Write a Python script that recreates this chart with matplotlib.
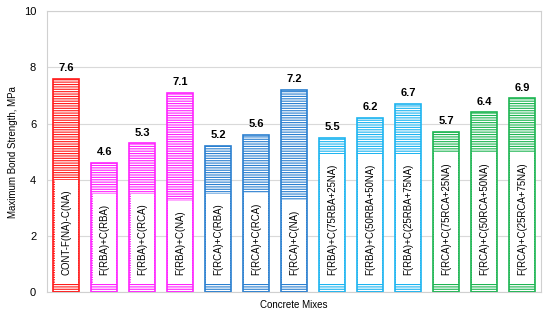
import matplotlib
matplotlib.use('Agg')
import matplotlib.pyplot as plt

# Bond strength of each concrete mix.

mixes = ['CONT-F(NA)-C(NA)', 'F(RBA)+C(RBA)', 'F(RBA)+C(RCA)', 'F(RBA)+C(NA)',
         'F(RCA)+C(RBA)', 'F(RCA)+C(RCA)', 'F(RCA)+C(NA)',
         'F(RBA)+C(75RBA+25NA)', 'F(RBA)+C(50RBA+50NA)', 'F(RBA)+C(25RBA+75NA)',
         'F(RCA)+C(75RCA+25NA)', 'F(RCA)+C(50RCA+50NA)', 'F(RCA)+C(25RCA+75NA)']
strength = [7.6, 4.6, 5.3, 7.1, 5.2, 5.6, 7.2, 5.5, 6.2, 6.7, 5.7, 6.4, 6.9]
colours = ['#FF1A1A'] + ['#FF22FF'] * 3 + ['#2A7FD0'] * 3 + ['#1CB4F0'] * 3 + ['#1DB552'] * 3

plt.rcParams['font.family'] = ['Liberation Sans', 'DejaVu Sans']
plt.rcParams['hatch.linewidth'] = 0.8

fig, ax = plt.subplots(figsize=(5.5, 3.21), dpi=100)
fig.subplots_adjust(left=0.086, right=0.984, top=0.965, bottom=0.09)

ax.set_xlim(-0.5, len(mixes) - 0.5)
ax.set_ylim(0, 10)

labels = []
for i, (h, c) in enumerate(zip(strength, colours)):
    ax.bar(i, h, width=0.68, facecolor='white', edgecolor=c, hatch='-------',
           linewidth=1.2, zorder=2)
    ax.text(i, h + 0.2, f'{h:.1f}', ha='center', va='bottom', fontsize=8,
            fontweight='bold', zorder=4)
    labels.append(ax.text(i, 0.6, mixes[i], rotation=90, ha='center', va='bottom',
                          fontsize=6.9, zorder=4))

# White boxes behind the mix names, sized to the text.
fig.canvas.draw()
inv = ax.transData.inverted()
for i, t in enumerate(labels):
    ext = t.get_window_extent()
    top = min(inv.transform((ext.x1, ext.y1))[1] + 0.35, strength[i] - 0.25)
    ax.bar(i, top - 0.3, bottom=0.3, width=0.62, facecolor='white',
           edgecolor='none', zorder=3)

ax.set_yticks([0, 2, 4, 6, 8, 10])
ax.set_xticks([])
ax.tick_params(axis='y', length=0, labelsize=8, pad=8)
ax.grid(axis='y', color='#D9D9D9', linewidth=0.8, zorder=0)
for s in ax.spines.values():
    s.set_color('#D0D0D0')

ax.set_ylabel('Maximum Bond Strength, MPa', fontsize=7)
ax.set_xlabel('Concrete Mixes', fontsize=7, labelpad=6)

fig.savefig('out.png', dpi=100)
